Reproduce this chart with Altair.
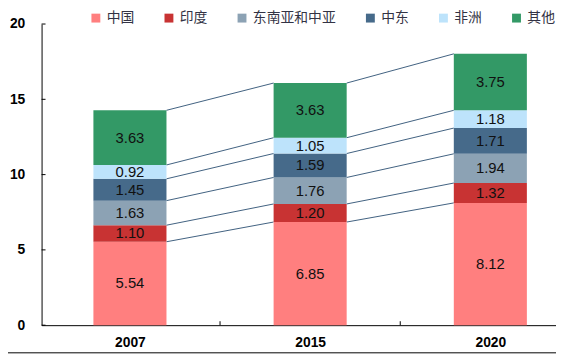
import altair as alt
import pandas as pd

years = ["2007", "2015", "2020"]
regions = ["中国", "印度", "东南亚和中亚", "中东", "非洲", "其他"]
colors = ["#FF7F7F", "#C83333", "#8CA2B4", "#466A8A", "#BDE3FB", "#339966"]
china = [5.54, 6.85, 8.12]
india = [1.10, 1.20, 1.32]
se_central = [1.63, 1.76, 1.94]
middle_east = [1.45, 1.59, 1.71]
africa = [0.92, 1.05, 1.18]
others = [3.63, 3.63, 3.75]
y_ticks = [0, 5, 10, 15, 20]

series = [china, india, se_central, middle_east, africa, others]

W, H = 521, 305
PX_PER_UNIT = 182.5
HALF = 37 / PX_PER_UNIT
X_MIN = (42.5 - 132) / PX_PER_UNIT
X_MAX = X_MIN + W / PX_PER_UNIT

rows = []
tops = {}
for i, yr in enumerate(years):
    cum = 0.0
    for j, reg in enumerate(regions):
        v = series[j][i]
        rows.append(dict(year=yr, idx=i, region=reg, order=j,
                         x0=i - HALF, x1=i + HALF, y0=cum, y1=cum + v,
                         mid=cum + v / 2, label=f"{v:.2f}"))
        cum += v
        tops[(i, j)] = cum
bars = pd.DataFrame(rows)

conn = []
for i in range(len(years) - 1):
    for j in range(len(regions)):
        conn.append(dict(xa=i + HALF, xb=i + 1 - HALF,
                         ya=tops[(i, j)], yb=tops[(i + 1, j)]))
conn = pd.DataFrame(conn)

xscale = alt.Scale(domain=[X_MIN, X_MAX], nice=False, zero=False)
yscale = alt.Scale(domain=[0, 20], nice=False)

label_expr = "[" + ",".join(f"'{y}'" for y in years) + "][datum.value]"

rects = alt.Chart(bars).mark_rect().encode(
    x=alt.X("x0:Q", scale=xscale, title=None,
            axis=alt.Axis(values=list(range(len(years))), labelExpr=label_expr,
                          ticks=False, grid=False, domainColor="black",
                          labelFontWeight="bold", labelFontSize=14,
                          labelColor="black", labelPadding=11,
                          labelFont="Liberation Sans")),
    x2="x1:Q",
    y=alt.Y("y0:Q", scale=yscale, title=None,
            axis=alt.Axis(values=y_ticks, ticks=False, grid=False,
                          domainColor="black", labelFontWeight="bold",
                          labelFontSize=14, labelColor="black",
                          labelPadding=17, labelFont="Liberation Sans")),
    y2="y1:Q",
    color=alt.Color("region:N", sort=regions,
                    scale=alt.Scale(domain=regions, range=colors),
                    legend=alt.Legend(title=None, orient="none", direction="horizontal",
                                      columns=6, legendX=48, legendY=-13,
                                      symbolType="square", symbolSize=81,
                                      symbolStrokeWidth=0, labelFontSize=14,
                                      labelColor="#333344", labelOffset=4,
                                      columnPadding=28, padding=0,
                                      labelFont="Liberation Sans, Noto Sans CJK SC")),
)

texts = alt.Chart(bars).mark_text(fontSize=15, color="#111111",
                                  font="Liberation Sans").encode(
    x=alt.X("idx:Q", scale=xscale),
    y=alt.Y("mid:Q", scale=yscale),
    text="label:N",
)

lines = alt.Chart(conn).mark_rule(color="#3F5F7F", strokeWidth=1).encode(
    x=alt.X("xa:Q", scale=xscale),
    x2="xb:Q",
    y=alt.Y("ya:Q", scale=yscale),
    y2="yb:Q",
)

ytick_df = pd.DataFrame({"t": y_ticks})
yticks = alt.Chart(ytick_df).mark_rule(color="black", strokeWidth=1).encode(
    y=alt.Y("t:Q", scale=yscale),
    x=alt.value(0),
    x2=alt.value(4),
)

xtick_df = pd.DataFrame({"b": [i + 0.5 for i in range(len(years) - 1)]})
xticks = alt.Chart(xtick_df).mark_rule(color="black", strokeWidth=1).encode(
    x=alt.X("b:Q", scale=xscale),
    y=alt.value(H - 4),
    y2=alt.value(H),
)

frame = alt.Chart(pd.DataFrame({"k": [0]})).mark_rule(color="black", strokeWidth=1).encode(
    x=alt.value(-42),
    x2=alt.value(W),
    y=alt.value(H + 28),
)

chart = alt.layer(lines, rects, texts, yticks, xticks, frame).properties(
    width=W, height=H,
    autosize=alt.AutoSizeParams(type="none"),
    padding={"left": 34, "top": 14, "right": 0, "bottom": 30},
).configure_view(stroke=None).configure_axis(domainWidth=1)

chart.save("out.html", embed_options={"renderer": "svg", "actions": False})
